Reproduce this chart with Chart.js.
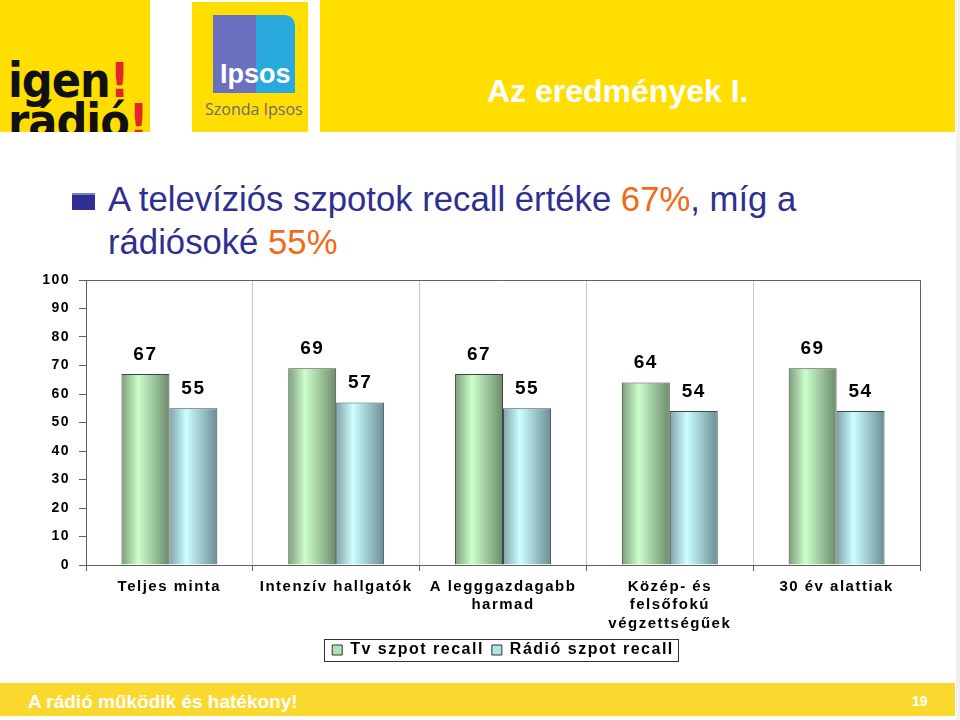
<!DOCTYPE html>
<html lang="hu">
<head>
<meta charset="utf-8">
<script src="https://cdn.jsdelivr.net/npm/chart.js@4.4.1/dist/chart.umd.min.js"></script>
<style>
  html, body { margin: 0; padding: 0; background: #fff; }
  #slide { position: relative; width: 960px; height: 720px; overflow: hidden; font-family: "Liberation Sans", Arial, sans-serif; }
  .yellow { position: absolute; background: #ffde00; }
  #logo1 { left: 0; top: 0; width: 150px; height: 132px; overflow: hidden; }
  #logo1 .w { position: absolute; left: 8px; font: bold 48px "Liberation Sans Narrow", "DejaVu Sans Condensed", sans-serif; color: #111; letter-spacing: -1px; line-height: 1; }
  #logo1 .w b { color: #e4242b; }
  #logo2 { left: 192px; top: 2px; width: 116px; height: 130px; }
  #ipsosMark { position: absolute; left: 21px; top: 13px; width: 82px; height: 78px; background: linear-gradient(90deg, #6a6fc0 0%, #6a6fc0 52%, #2aa9dc 52%, #2aa9dc 100%); border-radius: 0 10px 0 0; }
  #ipsosMark span { position: absolute; left: 7px; top: 44px; font: bold 27px "Liberation Sans", sans-serif; color: #fff; }
  #szonda { position: absolute; left: 13px; top: 96px; font: 16px "Open Sans", "Liberation Sans", sans-serif; color: #6b6b7a; }
  #band { left: 320px; top: 0; width: 635px; height: 132px; }
  #band h1 { position: absolute; left: 167px; top: 73px; margin: 0; font: bold 32px "Liberation Sans", sans-serif; color: #fff; }
  #bullet { position: absolute; left: 72px; top: 193px; width: 23px; height: 17px; background: #2f2f96; border-top: 2px solid #7c7cc8; box-sizing: border-box; }
  #title { position: absolute; left: 108px; top: 178px; width: 760px; margin: 0; font: 34.7px "Liberation Sans", sans-serif; color: #2e2f8f; line-height: 43px; }
  #title em { font-style: normal; color: #f06a1a; }
  #chartBox { position: absolute; left: 0; top: 262px; width: 960px; height: 410px; }
  #footer { position: absolute; left: 0; top: 683px; width: 955px; height: 33px; background: #fbd82e; }
  #footer .t { position: absolute; left: 28px; top: 8px; font: bold 19px "Liberation Sans", sans-serif; color: #fff; }
  #footer .n { position: absolute; left: 912px; top: 10px; font: bold 14px "Liberation Sans", sans-serif; color: #fff; }
  #edge { position: absolute; left: 956px; top: 0; width: 4px; height: 720px; background: #efefef; }
</style>
</head>
<body>
<div id="slide">
  <div id="logo1" class="yellow">
    <div class="w" style="top:56px">igen<b>!</b></div>
    <div class="w" style="top:97px">rádió<b>!</b></div>
  </div>
  <div id="logo2" class="yellow">
    <div id="ipsosMark"><span>Ipsos</span></div>
    <div id="szonda">Szonda Ipsos</div>
  </div>
  <div id="band" class="yellow"><h1>Az eredmények I.</h1></div>
  <div id="bullet"></div>
  <p id="title">A televíziós szpotok recall értéke <em>67%</em>, míg a<br>rádiósoké <em>55%</em></p>
  <div id="chartBox"><canvas id="recallChart"></canvas></div>
  <div id="footer"><span class="t">A rádió működik és hatékony!</span><span class="n">19</span></div>
  <div id="edge"></div>
</div>
<script>
const categories = [
    'Teljes minta',
    'Intenzív hallgatók',
    ['A legggazdagabb', 'harmad'],
    ['Közép- és', 'felsőfokú', 'végzettségűek'],
    '30 év alattiak'
];
const seriesNames = ['Tv szpot recall', 'Rádió szpot recall'];
const tvRecall = [67, 69, 67, 64, 69];
const radioRecall = [55, 57, 55, 54, 54];
const yMin = 0;
const yMax = 100;
const yStep = 10;

const CAT_PCT = 0.575;
const FONT = "'Liberation Sans', Arial, sans-serif";

// colour stops for the cylinder-ish shading: dark edge, highlight, dark edge
const greenStops = ['#7d9c7d', '#ccffcc', '#6b8a6b'];
const blueStops = ['#7fa3aa', '#ccffff', '#6a8c93'];
const legendFills = ['#b4e0b4', '#b4e4e8'];

function barFill(stops) {
    return (ctx) => {
        const chart = ctx.chart;
        const area = chart.chartArea;
        if (ctx.type !== 'data' || !area || !chart.scales.x) return stops[1];
        const catW = (area.right - area.left) / categories.length;
        const w = catW * CAT_PCT / 2;
        const center = chart.scales.x.getPixelForValue(ctx.dataIndex);
        const left = ctx.datasetIndex === 0 ? center - w : center;
        const g = chart.ctx.createLinearGradient(left, 0, left + w, 0);
        g.addColorStop(0, stops[0]);
        g.addColorStop(0.35, stops[1]);
        g.addColorStop(1, stops[2]);
        return g;
    };
}

// letter spacing like the original slide text
const spacing = {
    id: 'spacing',
    beforeUpdate: (chart) => { chart.ctx.letterSpacing = '1.5px'; },
    beforeDraw: (chart) => { chart.ctx.letterSpacing = '1.5px'; }
};

// frame on top/right of the plot + box around legend
const frame = {
    id: 'frame',
    afterDraw: (chart) => {
        const { ctx, chartArea: a, legend } = chart;
        ctx.save();
        ctx.strokeStyle = '#606060';
        ctx.lineWidth = 1;
        ctx.beginPath();
        ctx.moveTo(a.left, a.top + 0.5);
        ctx.lineTo(a.right + 0.5, a.top + 0.5);
        ctx.lineTo(a.right + 0.5, a.bottom);
        ctx.stroke();
        if (legend && legend.legendHitBoxes.length) {
            const boxes = legend.legendHitBoxes;
            const l = Math.min(...boxes.map(b => b.left)) - 8;
            const r = Math.max(...boxes.map(b => b.left + b.width)) + 4;
            const t = Math.min(...boxes.map(b => b.top)) - 3;
            const bt = Math.max(...boxes.map(b => b.top + b.height)) + 3;
            ctx.strokeStyle = '#303030';
            ctx.strokeRect(Math.round(l) + 0.5, Math.round(t) + 0.5, Math.round(r - l), Math.round(bt - t));
        }
        ctx.restore();
    }
};

// value labels above bars
const valueLabels = {
    id: 'valueLabels',
    afterDatasetsDraw: (chart) => {
        const ctx = chart.ctx;
        ctx.save();
        ctx.font = 'bold 19px ' + FONT;
        ctx.fillStyle = '#000';
        ctx.textAlign = 'center';
        ctx.textBaseline = 'bottom';
        chart.data.datasets.forEach((ds, i) => {
            chart.getDatasetMeta(i).data.forEach((bar, j) => {
                ctx.fillText(ds.data[j], bar.x, bar.y - 10);
            });
        });
        ctx.restore();
    }
};

new Chart(document.getElementById('recallChart'), {
    type: 'bar',
    data: {
        labels: categories,
        datasets: [{
            label: seriesNames[0],
            data: tvRecall,
            backgroundColor: barFill(greenStops),
            borderColor: '#3c4a3c',
            borderWidth: 1
        }, {
            label: seriesNames[1],
            data: radioRecall,
            backgroundColor: barFill(blueStops),
            borderColor: '#3c4a4c',
            borderWidth: 1
        }]
    },
    options: {
        responsive: true,
        maintainAspectRatio: false,
        animation: false,
        categoryPercentage: CAT_PCT,
        barPercentage: 1.0,
        layout: { padding: { left: 0, right: 40, top: 18, bottom: 4 } },
        plugins: {
            tooltip: { enabled: false },
            legend: {
                position: 'bottom',
                fullSize: false,
                labels: {
                    color: '#000',
                    font: { family: FONT, size: 16, weight: 'bold' },
                    boxWidth: 10,
                    boxHeight: 10,
                    padding: 8,
                    generateLabels: (chart) => {
                        const items = Chart.defaults.plugins.legend.labels.generateLabels(chart);
                        items.forEach((it, i) => {
                            it.fillStyle = legendFills[i];
                            it.strokeStyle = '#303030';
                            it.lineWidth = 1;
                        });
                        return items;
                    }
                }
            }
        },
        scales: {
            y: {
                min: yMin,
                max: yMax,
                afterFit: (s) => { s.width = 86; },
                ticks: {
                    stepSize: yStep,
                    color: '#000',
                    padding: 9,
                    font: { family: FONT, size: 14, weight: 'bold' }
                },
                grid: { drawOnChartArea: false, drawTicks: true, tickLength: 7, tickColor: '#606060' },
                border: { display: true, color: '#606060' }
            },
            x: {
                afterFit: (s) => { s.height = 69; },
                ticks: {
                    color: '#000',
                    padding: 6,
                    maxRotation: 0,
                    autoSkip: false,
                    font: { family: FONT, size: 15, weight: 'bold', lineHeight: 1.25 }
                },
                grid: { offset: true, color: '#c8c8c8', drawTicks: true, tickLength: 6, tickColor: '#606060' },
                border: { display: true, color: '#606060' }
            }
        }
    },
    plugins: [spacing, frame, valueLabels]
});
</script>
</body>
</html>
